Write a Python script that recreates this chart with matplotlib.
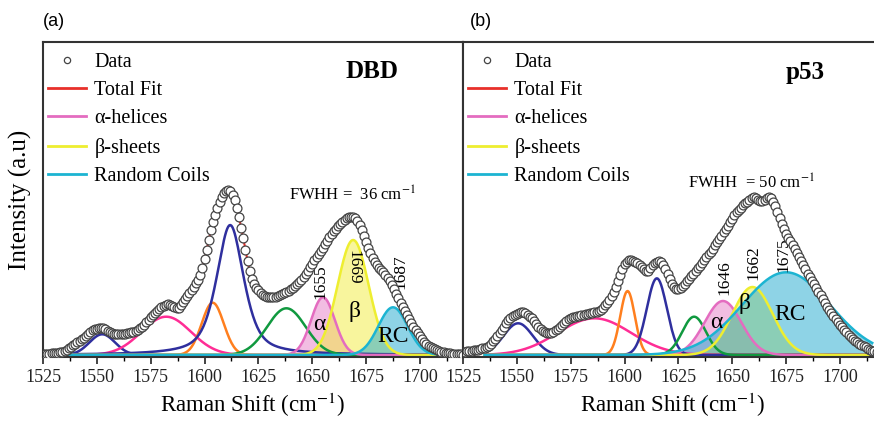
import numpy as np
import matplotlib
matplotlib.use('Agg')
import matplotlib.pyplot as plt
from matplotlib.lines import Line2D
from matplotlib.ticker import MultipleLocator

plt.rcParams['font.family'] = ['Liberation Serif', 'DejaVu Serif']
plt.rcParams['mathtext.fontset'] = 'stix'

# Raman shift grid of the measured points (1 cm-1 steps)
shift = np.arange(1525, 1721)

# measured intensity, panel (a) DBD
data_dbd = [
    1.0, 1.2, 1.4, 1.5, 1.7, 2.0, 2.2, 2.5, 3.0, 3.5,
    4.5, 5.5, 7.0, 8.5, 10.0, 11.5, 13.0, 14.5, 16.0, 17.5,
    19.5, 21.5, 23.5, 25.0, 26.0, 26.5, 26.8, 27.0, 26.7, 26.0,
    24.5, 23.0, 22.0, 21.5, 21.3, 21.2, 21.0, 21.0, 21.5, 22.0,
    22.5, 23.0, 23.5, 24.5, 25.5, 27.0, 28.5, 30.5, 33.0, 35.5,
    38.0, 40.0, 42.5, 44.5, 46.5, 48.0, 49.2, 50.2, 50.7, 50.5,
    49.5, 48.0, 47.0, 47.5, 50.0, 53.0, 56.0, 59.0, 62.0, 65.0,
    68.5, 72.0, 75.5, 80.0, 87.0, 96.0, 105.0, 115.0, 125.0, 133.0,
    140.5, 147.5, 153.5, 158.5, 162.0, 164.0, 165.0, 164.0, 160.5, 155.0,
    147.0, 138.0, 127.0, 117.0, 105.0, 94.0, 84.0, 76.0, 71.0, 67.5,
    65.0, 62.5, 60.5, 59.0, 58.2, 57.8, 57.7, 58.0, 58.3, 59.0,
    60.0, 61.0, 62.2, 63.3, 64.5, 66.0, 67.5, 69.0, 71.0, 73.0,
    75.5, 78.5, 81.0, 84.5, 88.0, 91.5, 95.0, 98.3, 101.5, 104.5,
    107.5, 111.0, 114.5, 118.0, 121.0, 124.0, 126.5, 129.0, 131.5, 133.5,
    135.5, 137.0, 138.0, 138.5, 138.3, 137.0, 134.0, 130.0, 125.0, 119.0,
    113.3, 107.5, 102.0, 97.0, 93.0, 90.0, 87.5, 85.0, 83.0, 80.5,
    77.5, 74.0, 70.0, 66.0, 61.5, 57.0, 52.5, 48.3, 44.0, 40.0,
    36.0, 32.0, 28.3, 25.0, 22.0, 19.0, 16.0, 13.5, 11.5, 9.5,
    8.0, 6.8, 5.8, 4.8, 4.0, 3.3, 2.8, 2.3, 2.0, 1.7,
    1.4, 1.2, 1.0, 0.8, 0.6, 0.5,
]

# measured intensity, panel (b) p53
data_p53 = [
    3.0, 3.3, 3.8, 4.0, 4.3, 4.8, 5.0, 5.5, 6.0, 6.8,
    7.5, 8.5, 9.5, 11.5, 14.0, 16.5, 19.0, 21.7, 25.0, 28.5,
    32.0, 35.0, 37.5, 39.0, 40.2, 41.0, 41.7, 43.0, 43.3, 42.0,
    40.5, 38.5, 37.0, 34.5, 31.5, 28.5, 26.0, 24.5, 23.0, 22.2,
    22.0, 22.5, 23.5, 25.0, 26.5, 28.0, 30.0, 32.5, 34.5, 36.0,
    37.0, 37.8, 38.5, 39.0, 39.5, 40.0, 40.5, 41.0, 41.5, 42.0,
    42.5, 43.0, 43.3, 44.0, 45.5, 47.5, 50.0, 52.5, 55.0, 59.0,
    63.5, 68.0, 74.0, 80.0, 86.0, 91.0, 93.5, 95.0, 95.0, 94.5,
    93.5, 92.0, 90.0, 88.0, 86.0, 84.0, 84.5, 87.0, 90.0, 92.0,
    93.0, 93.7, 93.0, 90.5, 86.5, 81.0, 76.0, 71.5, 68.5, 66.5,
    66.0, 67.0, 69.0, 71.5, 74.0, 76.5, 79.0, 81.5, 84.5, 87.0,
    89.5, 92.0, 95.0, 98.0, 101.0, 103.5, 106.5, 110.0, 113.0, 116.0,
    119.5, 122.7, 126.0, 129.5, 133.0, 136.5, 140.0, 142.7, 145.0, 147.5,
    150.0, 152.0, 153.5, 155.5, 157.0, 157.7, 157.0, 155.5, 154.5, 154.3,
    155.5, 157.0, 157.7, 157.0, 153.5, 149.5, 143.5, 137.0, 131.0, 126.0,
    121.5, 117.5, 114.0, 110.0, 106.0, 102.0, 98.5, 94.5, 90.0, 86.0,
    81.5, 78.0, 74.5, 71.0, 67.5, 63.5, 60.0, 56.5, 52.5, 48.0,
    45.0, 42.0, 39.0, 36.0, 33.0, 30.5, 28.0, 25.5, 23.0, 20.5,
    18.0, 16.0, 14.5, 13.0, 11.5, 10.0, 9.0, 8.0, 6.5, 5.5,
    4.5, 4.0, 3.5, 3.0, 2.8, 2.5,
]

# fitted bands: centre (cm-1), height, FWHM (cm-1), lorentzian fraction
centers_dbd = [1552.5, 1582.2, 1603.8, 1611.9, 1638.0, 1655.0, 1669.0, 1687.5]
heights_dbd = [20.7, 38.3, 52.3, 130.0, 46.7, 57.7, 115.0, 47.7]
fwhm_dbd = [14, 27, 12, 15, 21, 13, 17, 16]
eta_dbd = [0, 0, 0, 0.6, 0, 0, 0, 0]

centers_p53 = [1550.6, 1586.0, 1601.4, 1615.0, 1632.3, 1645.7, 1659.4, 1675.0]
heights_p53 = [31.7, 36.7, 64.0, 76.7, 38.3, 54.0, 68.0, 82.7]
fwhm_p53 = [16, 40, 8, 11, 13, 20, 22, 48]
eta_p53 = [0, 0, 0, 0, 0, 0, 0, 0]

band_colors = ['#2f2f9e', '#ff2d95', '#ff7f1e', '#2f2f9e', '#10993f',
               '#e46cc0', '#eeee30', '#1cb4d2']
fill_colors = [None, None, None, None, None, '#e67cc6', '#f2ec3c', '#1fa8cf']

band_labels_dbd = ['1655', '1669', '1687']
band_labels_p53 = ['1646', '1662', '1675']


def band(x, c, h, w, eta):
    g = np.exp(-4 * np.log(2) * ((x - c) / w) ** 2)
    lor = 1 / (1 + 4 * ((x - c) / w) ** 2)
    return h * ((1 - eta) * g + eta * lor)


fig = plt.figure(figsize=(8.74, 4.22), dpi=100)
ax_a = fig.add_axes([43 / 874, 65 / 422, 420 / 874, 315 / 422])
ax_b = fig.add_axes([463 / 874, 65 / 422, 420 / 874, 315 / 422])

xs = np.arange(1535, 1715.5, 0.5)


def draw_panel(ax, data, centers, heights, fwhm, eta):
    for i in range(len(centers)):
        y = band(xs, centers[i], heights[i], fwhm[i], eta[i])
        if fill_colors[i]:
            ax.fill_between(xs, 0, y, color=fill_colors[i], alpha=0.5, lw=0, zorder=1)
    for i in range(len(centers)):
        y = band(xs, centers[i], heights[i], fwhm[i], eta[i])
        ax.plot(xs, y, color=band_colors[i], lw=1.8, zorder=2)
    ax.plot(shift, data, color='#e8302a', lw=1.5, zorder=3)
    ax.plot(shift, data, 'o', ms=6.4, mfc='white', mec='#444444', mew=0.9, zorder=4)

    ax.set_xlim(1525, 1720)
    ax.set_ylim(-2, 313)
    ax.set_yticks([])
    ax.xaxis.set_major_locator(MultipleLocator(25))
    ax.xaxis.set_minor_locator(MultipleLocator(12.5))
    ax.tick_params(axis='x', which='major', length=5, width=1.2, labelsize=13, pad=4,
                   colors='#222222')
    ax.tick_params(axis='x', which='minor', length=3, width=1.0)
    for s in ax.spines.values():
        s.set_color('#333333')
        s.set_linewidth(1.5)
    ax.set_xlabel('Raman Shift (cm$^{-1}$)', fontsize=16.5, labelpad=3)

    handles = [
        Line2D([], [], ls='none', marker='o', ms=4.5, mfc='white', mec='#444444', mew=0.9),
        Line2D([], [], color='#e8302a', lw=2),
        Line2D([], [], color='#e46cc0', lw=2),
        Line2D([], [], color='#eeee30', lw=2),
        Line2D([], [], color='#1cb4d2', lw=2),
    ]
    ax.legend(handles, ['Data', 'Total Fit', '\u03b1-helices', '\u03b2-sheets', 'Random Coils'],
              loc='upper left', bbox_to_anchor=(-0.007, 0.992), borderaxespad=0,
              frameon=False, fontsize=14.5,
              handlelength=1.9, handletextpad=0.4, labelspacing=0.46)


draw_panel(ax_a, data_dbd, centers_dbd, heights_dbd, fwhm_dbd, eta_dbd)
draw_panel(ax_b, data_p53, centers_p53, heights_p53, fwhm_p53, eta_p53)

ax_a.set_ylabel('Intensity (a.u)', fontsize=18, labelpad=8)

# panel (a) annotations
ax_a.text(1677.6, 283, 'DBD', fontsize=18, fontweight='bold', ha='center', va='center')
ax_a.text(1668.8, 160, 'FWHH =  36 cm$^{-1}$', fontsize=12, ha='center', va='center')
ax_a.text(1653.8, 73, band_labels_dbd[0], fontsize=12.5, rotation=90, ha='center', va='center')
ax_a.text(1669.2, 88, band_labels_dbd[1], fontsize=12.5, rotation=-90, ha='center', va='center')
ax_a.text(1690.9, 83, band_labels_dbd[2], fontsize=12.5, rotation=90, ha='center', va='center')
ax_a.text(1653.5, 31, '\u03b1', fontsize=17, ha='center', va='center')
ax_a.text(1669.7, 43, '\u03b2', fontsize=17, ha='center', va='center')
ax_a.text(1687.5, 18, 'RC', fontsize=17, ha='center', va='center')

# panel (b) annotations
ax_b.text(1684, 283, 'p53', fontsize=18, fontweight='bold', ha='center', va='center')
ax_b.text(1658.9, 172, 'FWHH  = 50 cm$^{-1}$', fontsize=12, ha='center', va='center')
ax_b.text(1646.5, 77, band_labels_p53[0], fontsize=12.5, rotation=90, ha='center', va='center')
ax_b.text(1659.7, 92, band_labels_p53[1], fontsize=12.5, rotation=90, ha='center', va='center')
ax_b.text(1673.6, 100, band_labels_p53[2], fontsize=12.5, rotation=90, ha='center', va='center')
ax_b.text(1642.6, 33, '\u03b1', fontsize=17, ha='center', va='center')
ax_b.text(1655.8, 52, '\u03b2', fontsize=17, ha='center', va='center')
ax_b.text(1676.7, 40, 'RC', fontsize=17, ha='center', va='center')

fig.text(43 / 874, 1 - 21 / 422, '(a)', fontsize=13, family='Liberation Sans', va='center')
fig.text(470 / 874, 1 - 21 / 422, '(b)', fontsize=13, family='Liberation Sans', va='center')

fig.savefig('out.png', dpi=100)
